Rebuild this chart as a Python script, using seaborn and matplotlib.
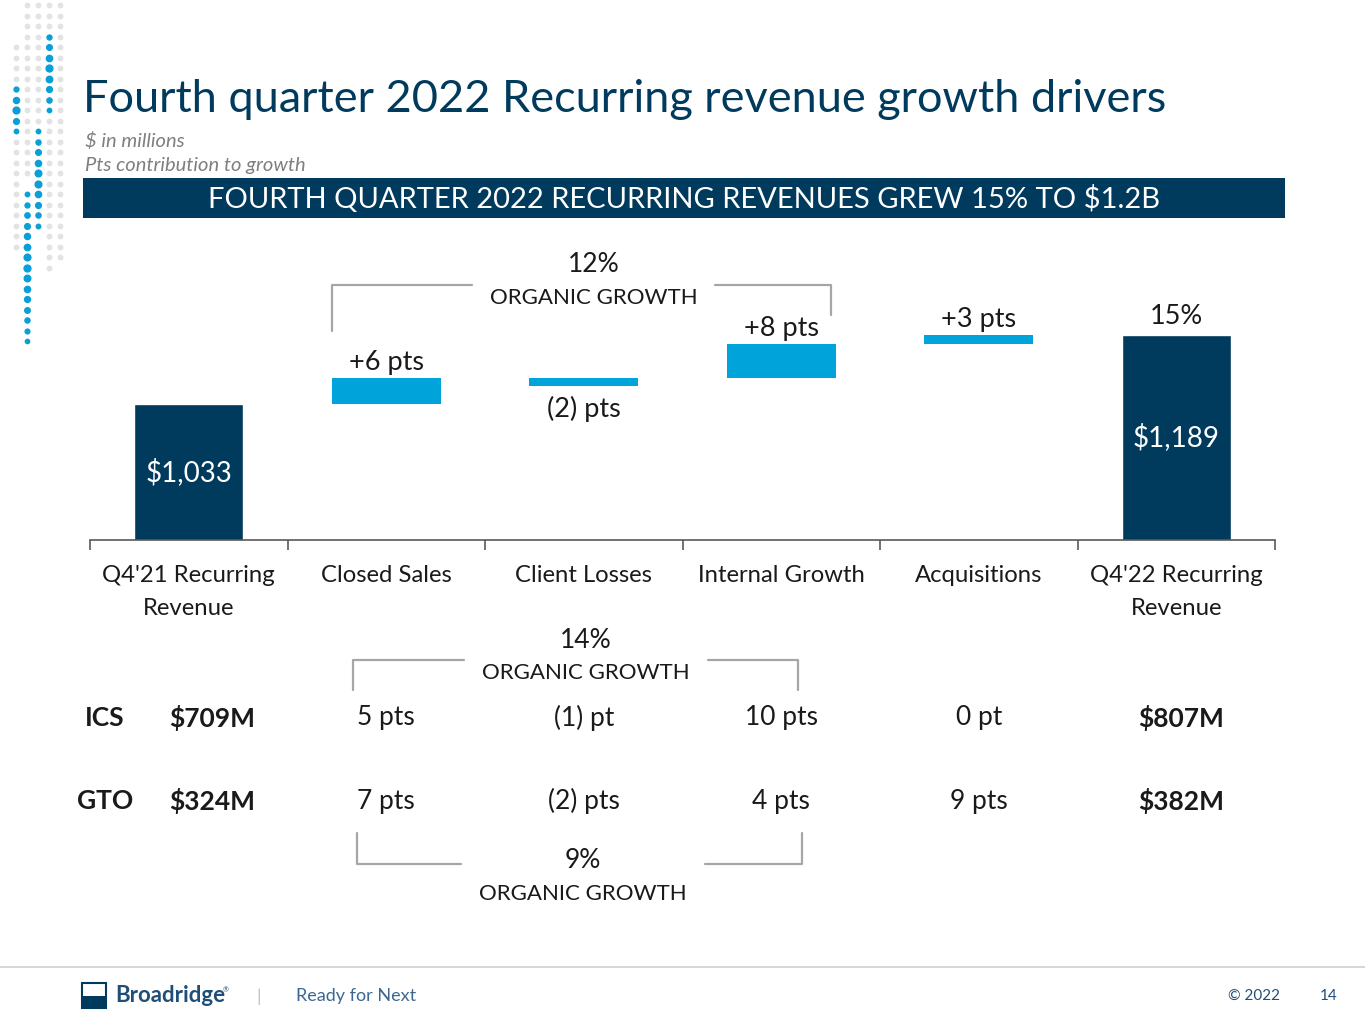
import numpy as np
import pandas as pd
import matplotlib
matplotlib.use("Agg")
import matplotlib.pyplot as plt
import seaborn as sns
from matplotlib.lines import Line2D
from matplotlib.patches import Rectangle

# waterfall data ($ in millions)
categories = ["Q4'21 Recurring\nRevenue", "Closed Sales", "Client Losses",
              "Internal Growth", "Acquisitions", "Q4'22 Recurring\nRevenue"]
start_total = 1033
end_total = 1189
deltas = [59, -18, 77, 20]
delta_labels = ["+6 pts", "(2) pts", "+8 pts", "+3 pts"]
end_label = "15%"

# segment table below the chart
ics_row = ["5 pts", "(1) pt", "10 pts", "0 pt"]
gto_row = ["7 pts", "(2) pts", "4 pts", "9 pts"]
ics_start, ics_end = "$709M", "$807M"
gto_start, gto_end = "$324M", "$382M"

NAVY = "#003a5d"
BLUE = "#00a3da"
GREY = "#a6a6a6"
TXT = "#1a1a1a"

sns.set_theme(style="white")
plt.rcParams['font.family'] = ['Lato', 'DejaVu Sans']

W, H = 1365, 1024
fig = plt.figure(figsize=(W / 100, H / 100), dpi=100)

def fx(x):
    return x / W

def fy(y):
    return 1 - y / H

# axes placed so the baseline sits at ~540px, spanning 90..1275px
ax = fig.add_axes([fx(90), fy(540), fx(1275) - fx(90), fy(250) - fy(540)])

totals = pd.DataFrame({"cat": categories,
                       "val": [start_total, np.nan, np.nan, np.nan, np.nan, end_total]})
sns.barplot(data=totals, x="cat", y="val", order=categories, color=NAVY,
            width=0.55, saturation=1, ax=ax)

# on the slide the loss bar hangs from the current level, the next bar starts there too
bottoms = []
level = start_total
for d in deltas:
    bottoms.append(level)
    if d > 0:
        level += d
xpos = np.arange(1, 5)
ax.bar(xpos, deltas, bottom=bottoms, width=0.55, color=BLUE, linewidth=0)

ymin = 725
ax.set_ylim(ymin, 1381)
ax.set_xlim(-0.5, 5.5)

# labels inside the total bars
for i, v in [(0, start_total), (5, end_total)]:
    ax.text(i, (ymin + v) / 2, f"${v:,}", ha="center", va="center",
            color="white", fontsize=20)

# point labels above / below floating bars
for x, d, b, lab in zip(xpos, deltas, bottoms, delta_labels):
    if d >= 0:
        ax.annotate(lab, (x, b + d), xytext=(0, 11), textcoords="offset points",
                    ha="center", va="center", fontsize=19.5, color=TXT)
    else:
        ax.annotate(lab, (x, b + d), xytext=(0, -17), textcoords="offset points",
                    ha="center", va="center", fontsize=19.5, color=TXT)
ax.annotate(end_label, (5, end_total), xytext=(0, 13), textcoords="offset points",
            ha="center", va="center", fontsize=19.5, color=TXT)

# axis styling
for s in ["top", "right", "left"]:
    ax.spines[s].set_visible(False)
ax.spines["bottom"].set_color("#595959")
ax.spines["bottom"].set_linewidth(1.2)
ax.set_yticks([])
ax.set_xlabel("")
ax.set_ylabel("")
ax.set_xticks(np.arange(-0.5, 6, 1))
ax.set_xticklabels([])
ax.tick_params(axis="x", which="major", direction="out", length=7, width=1.2,
               color="#595959", bottom=True)
ax.set_xticks(np.arange(6), minor=True)
ax.set_xticklabels(categories, minor=True, fontsize=17.2, color=TXT, linespacing=1.7)
ax.tick_params(axis="x", which="minor", length=0, pad=18)

# title block
fig.text(fx(83), fy(100), "Fourth quarter 2022 Recurring revenue growth drivers",
         fontsize=32.5, color=NAVY, va="center", ha="left")
fig.text(fx(85), fy(141), "$ in millions", fontsize=14.5, style="italic",
         color="#7f7f7f", va="center")
fig.text(fx(85), fy(166), "Pts contribution to growth", fontsize=14.5, style="italic",
         color="#7f7f7f", va="center")
fig.add_artist(Rectangle((fx(83), fy(218)), fx(1285) - fx(83), fy(178) - fy(218),
                         transform=fig.transFigure, color=NAVY, lw=0))
fig.text(fx(684), fy(199), "FOURTH QUARTER 2022 RECURRING REVENUES GREW 15% TO $1.2B",
         fontsize=21, color="white", ha="center", va="center")

def bracket(x0, x1, xa, xb, yh, yl, yr, pct, cy):
    # horizontal arms + vertical legs in grey
    for xs, ys in [([x0, x0, xa], [yl, yh, yh]), ([xb, x1, x1], [yh, yh, yr])]:
        fig.add_artist(Line2D([fx(v) for v in xs], [fy(v) for v in ys],
                              transform=fig.transFigure, color=GREY, lw=1.6))
    fig.text(fx((xa + xb) / 2), fy(cy), pct, fontsize=19, color=TXT,
             ha="center", va="center")
    fig.text(fx((xa + xb) / 2), fy(cy + 33), "ORGANIC GROWTH", fontsize=16,
             color=TXT, ha="center", va="center")

bracket(332, 831, 472, 715, 285, 331, 315, "12%", 265)
bracket(353, 798, 464, 708, 660, 690, 690, "14%", 640)
bracket(357, 802, 461, 705, 864, 833, 833, "9%", 861)

# segment table
for lab, start, row, end, y in [("ICS", ics_start, ics_row, ics_end, 718),
                                ("GTO", gto_start, gto_row, gto_end, 801)]:
    fig.text(fx(105), fy(y), lab, fontsize=19, weight="bold", color=TXT,
             ha="center", va="center")
    fig.text(fx(212), fy(y), start, fontsize=19, weight="bold", color=TXT,
             ha="center", va="center")
    for i, v in enumerate(row):
        fig.text(fx(90 + (i + 1.5) * 197.5), fy(y), v, fontsize=19, color=TXT,
                 ha="center", va="center")
    fig.text(fx(1181), fy(y), end, fontsize=19, weight="bold", color=TXT,
             ha="center", va="center")

# decorative dot column on the left
cols = [16, 27, 38, 49, 60]
rows = np.arange(5, 345, 10.5)
blue_runs = {49: (27, 112), 16: (85, 132), 38: (128, 230), 27: (188, 342)}
grey_runs = {16: (40, 250), 27: (5, 180), 38: (5, 125), 49: (5, 270), 60: (5, 265)}
for c in cols:
    for r in rows:
        if c in blue_runs and blue_runs[c][0] <= r <= blue_runs[c][1]:
            lo, hi = blue_runs[c]
            mid = (lo + hi) / 2
            s = 9 + 16 * max(0, 1 - abs(r - mid) / ((hi - lo) / 2 + 1))
            fig.add_artist(Line2D([fx(c)], [fy(r)], marker="o", ms=np.sqrt(s),
                                  color="#0a9fd6", transform=fig.transFigure, lw=0))
        elif grey_runs[c][0] <= r <= grey_runs[c][1]:
            fig.add_artist(Line2D([fx(c)], [fy(r)], marker="o", ms=3.2,
                                  color="#e3e3e3", transform=fig.transFigure, lw=0))

# footer
fig.add_artist(Line2D([0, 1], [fy(967), fy(967)], transform=fig.transFigure,
                      color="#d0d0d0", lw=1.2))
fig.add_artist(Rectangle((fx(82), fy(1008)), fx(24), fy(983) - fy(1008),
                         transform=fig.transFigure, facecolor="white",
                         edgecolor=NAVY, lw=1.5))
fig.add_artist(Rectangle((fx(82), fy(1008)), fx(24), fy(996) - fy(1008),
                         transform=fig.transFigure, color=NAVY, lw=0))
fig.text(fx(115), fy(996), "Broadridge", fontsize=16, weight="bold", color="#1f4e79",
         ha="left", va="center")
fig.text(fx(223), fy(990), "\u00ae", fontsize=5, color="#1f4e79", ha="left", va="center")
fig.text(fx(259), fy(997), "|", fontsize=13, color="#bfbfbf", ha="center", va="center")
fig.text(fx(296), fy(996), "Ready for Next", fontsize=13, color="#3b6790",
         ha="left", va="center")
fig.text(fx(1254), fy(996), "\u00a9 2022", fontsize=11, color="#1f4e79",
         ha="center", va="center")
fig.text(fx(1329), fy(996), "14", fontsize=11, color="#1f4e79",
         ha="center", va="center")

fig.savefig("out.png", dpi=100)
